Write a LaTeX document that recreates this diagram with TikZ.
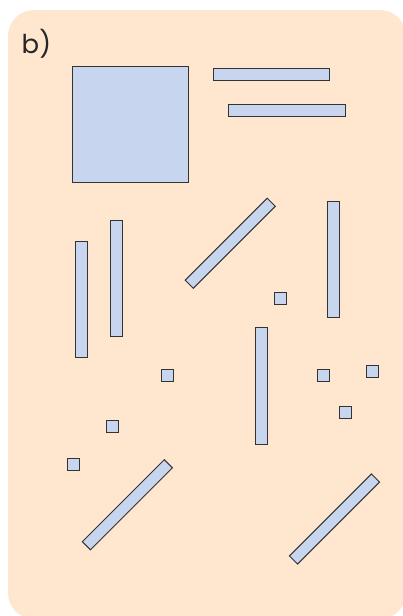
\documentclass[tikz,border=0pt]{standalone}
\usepackage{fontspec}
\setmainfont{Poppins}
\definecolor{peach}{RGB}{255,230,207}
\definecolor{pieceblue}{RGB}{199,213,238}
\definecolor{edge}{RGB}{51,51,51}
\tikzset{
  piece/.style={draw=edge, fill=pieceblue, line width=1pt},
  bar/.style={piece, rectangle, inner sep=0pt, minimum width=116pt, minimum height=11.5pt}
}
\begin{document}
\begin{tikzpicture}[x=1pt,y=-1pt]
\useasboundingbox (0,0) rectangle (403,616);
\fill[peach, rounded corners=26pt] (8,10) rectangle (406,619);
\node[anchor=base west, inner sep=0pt, text=black!85, font=\fontsize{26}{28}\selectfont] (lbl) at (21.5,53.5) {b)};
% big square
\draw[piece] (72,66) rectangle (188,182);
% horizontal bars
\draw[piece] (213,68) rectangle (329.5,80);
\draw[piece] (228.5,104) rectangle (345,116);
% vertical bars
\draw[piece] (75,241) rectangle (87,357);
\draw[piece] (110.3,220) rectangle (122,336.3);
\draw[piece] (327.5,201) rectangle (339.5,317);
\draw[piece] (255,327.5) rectangle (267,444);
% diagonal bars
\node[bar, rotate=45] (d1) at (230.25,243.25) {};
\node[bar, rotate=45] (d2) at (127.35,504.75) {};
\node[bar, rotate=45] (d3) at (334.5,519) {};
% small squares
\draw[piece] (274.3,292) rectangle (286.3,304);
\draw[piece] (161.7,369.3) rectangle (173.7,381.3);
\draw[piece] (317,369.3) rectangle (329,381.3);
\draw[piece] (366.3,365) rectangle (378.3,377);
\draw[piece] (339,406.3) rectangle (351,418.3);
\draw[piece] (106,420) rectangle (118,432);
\draw[piece] (67.3,458.7) rectangle (79.3,470.7);
\end{tikzpicture}
\end{document}
